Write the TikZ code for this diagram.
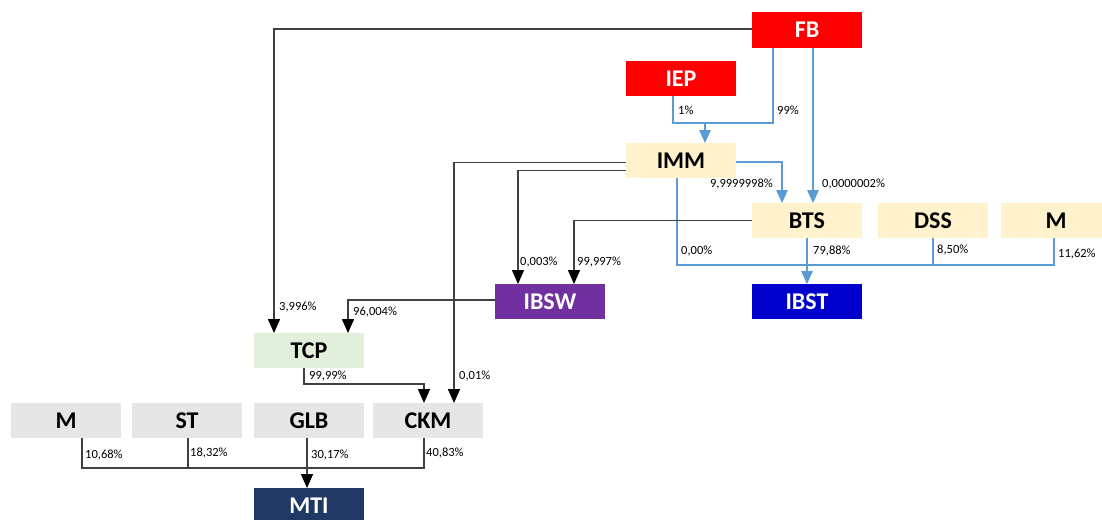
\documentclass[tikz,border=0pt]{standalone}
\usepackage{fontspec}
\setmainfont{Carlito}
\setsansfont{Carlito}
\usetikzlibrary{arrows.meta,calc}
\definecolor{cred}{HTML}{FF0000}
\definecolor{cyel}{HTML}{FFF2CC}
\definecolor{cpur}{HTML}{7030A0}
\definecolor{cblu}{HTML}{0000CC}
\definecolor{cgrn}{HTML}{E2EFDA}
\definecolor{cgry}{HTML}{E7E6E6}
\definecolor{cnav}{HTML}{1F3864}
\definecolor{lblue}{HTML}{5B9BD5}
\definecolor{lblk}{HTML}{404040}
\tikzset{
  box/.style={rectangle, draw=none, minimum width=110pt, minimum height=35.5pt, inner sep=0pt,
    font=\bfseries\fontsize{24}{24}\selectfont},
  darkbox/.style={box, text=white},
  lightbox/.style={box, text=black},
  pct/.style={inner sep=0pt, anchor=west, font=\fontsize{12.5}{13}\selectfont},
  blk/.style={draw=lblk, line width=1.3pt},
  blu/.style={draw=lblue, line width=1.2pt},
  blkarrow/.style={blk, -{Triangle[width=12pt,length=14pt,color=black]}, shorten >=-0.5pt},
  bluarrow/.style={blu, -{Triangle[width=11.5pt,length=13pt]}, shorten >=-0.5pt}
}
\begin{document}
\begin{tikzpicture}[x=1pt,y=-1pt]
\useasboundingbox (0,0) rectangle (1102,519);
\fill[white] (0,0) rectangle (1102,519);
% boxes
\node[darkbox, fill=cred] (FB) at (807,30) {FB};
\node[darkbox, fill=cred] (IEP) at (681,78.5) {IEP};
\node[lightbox, fill=cyel] (IMM) at (681,160.5) {IMM};
\node[lightbox, fill=cyel] (BTS) at (807,220.5) {BTS};
\node[lightbox, fill=cyel] (DSS) at (933,220.5) {DSS};
\node[lightbox, fill=cyel] (M2) at (1056,220.5) {M};
\node[darkbox, fill=cpur] (IBSW) at (550,301.5) {IBSW};
\node[darkbox, fill=cblu] (IBST) at (807,301.5) {IBST};
\node[lightbox, fill=cgrn] (TCP) at (309,350.5) {TCP};
\node[lightbox, fill=cgry] (M1) at (66,420.5) {M};
\node[lightbox, fill=cgry] (ST) at (187,420.5) {ST};
\node[lightbox, fill=cgry] (GLB) at (309,420.5) {GLB};
\node[lightbox, fill=cgry] (CKM) at (428,420.5) {CKM};
\node[darkbox, fill=cnav] (MTI) at (309,505.5) {MTI};
% helper coordinates
\coordinate (jy) at (0,123);
\coordinate (by) at (0,265);
\coordinate (busy) at (0,468);
\coordinate (tcpy) at (0,384);
\coordinate (fbA) at ([xshift=-34pt]FB.south);
\coordinate (fbB) at ([xshift=6pt]FB.south);
\coordinate (iepS) at ([xshift=-8pt]IEP.south);
\coordinate (immN) at ([xshift=24pt]IMM.north);
\coordinate (btsA) at ([xshift=-25pt]BTS.north);
\coordinate (btsB) at ([xshift=6pt]BTS.north);
\coordinate (immS) at ([xshift=-4pt]IMM.south);
\coordinate (m2S) at ([xshift=-2pt]M2.south);
\coordinate (tcpA) at ([xshift=-35pt]TCP.north);
\coordinate (tcpB) at ([xshift=39pt]TCP.north);
\coordinate (ibswA) at ([xshift=-32pt]IBSW.north);
\coordinate (ibswB) at ([xshift=24pt]IBSW.north);
\coordinate (ckmA) at ([xshift=-4pt]CKM.north);
\coordinate (ckmB) at ([xshift=26pt]CKM.north);
\coordinate (ckmS) at ([xshift=-4pt]CKM.south);
\coordinate (tcpS) at ([xshift=-5pt]TCP.south);
\coordinate (m1S) at ([xshift=16pt]M1.south);
\coordinate (stS) at ([xshift=1pt]ST.south);
\coordinate (glbS) at ([xshift=-2pt]GLB.south);
\coordinate (mtiN) at ([xshift=-2pt]MTI.north);
% blue connectors
\draw[blu] (iepS) |- (fbA |- jy) -- (fbA);
\draw[bluarrow] (immN |- jy) -- (immN);
\draw[bluarrow] (fbB) -- (btsB);
\draw[bluarrow] ([yshift=-1.5pt]IMM.east) -| (btsA);
\draw[blu] (immS) |- (m2S |- by) -- (m2S);
\draw[blu] (DSS.south) -- (DSS.south |- by);
\draw[bluarrow] (BTS.south) -- (IBST.north);
% black connectors
\draw[blkarrow] ([yshift=1pt]FB.west) -| (tcpA);
\draw[blkarrow] ([yshift=-2pt]IMM.west) -| (ckmB);
\draw[blkarrow] ([yshift=-10pt]IMM.west) -| (ibswA);
\draw[blkarrow] (BTS.west) -| (ibswB);
\draw[blkarrow] ([yshift=1.5pt]IBSW.west) -| (tcpB);
\draw[blkarrow] (tcpS) |- (ckmA |- tcpy) -- (ckmA);
\draw[blk] (m1S) |- (ckmS |- busy) -- (ckmS);
\draw[blk] (stS) -- (stS |- busy);
\draw[blkarrow] (glbS) -- (mtiN);
% labels
\node[pct] (l1) at (678,110) {1\%};
\node[pct] (l2) at (777,110) {99\%};
\node[pct, anchor=east] (l3) at (773,184) {9,9999998\%};
\node[pct] (l4) at (822,184) {0,0000002\%};
\node[pct] (l5) at (681,251) {0,00\%};
\node[pct] (l6) at (813,251) {79,88\%};
\node[pct] (l7) at (937,250) {8,50\%};
\node[pct] (l8) at (1058,254) {11,62\%};
\node[pct] (l9) at (520,262) {0,003\%};
\node[pct] (l10) at (577,262) {99,997\%};
\node[pct] (l11) at (279,307) {3,996\%};
\node[pct] (l12) at (353,312) {96,004\%};
\node[pct] (l13) at (309,376) {99,99\%};
\node[pct] (l14) at (459,376) {0,01\%};
\node[pct] (l15) at (85,455) {10,68\%};
\node[pct] (l16) at (190,453) {18,32\%};
\node[pct] (l17) at (311,455) {30,17\%};
\node[pct] (l18) at (426,453) {40,83\%};
\end{tikzpicture}
\end{document}
